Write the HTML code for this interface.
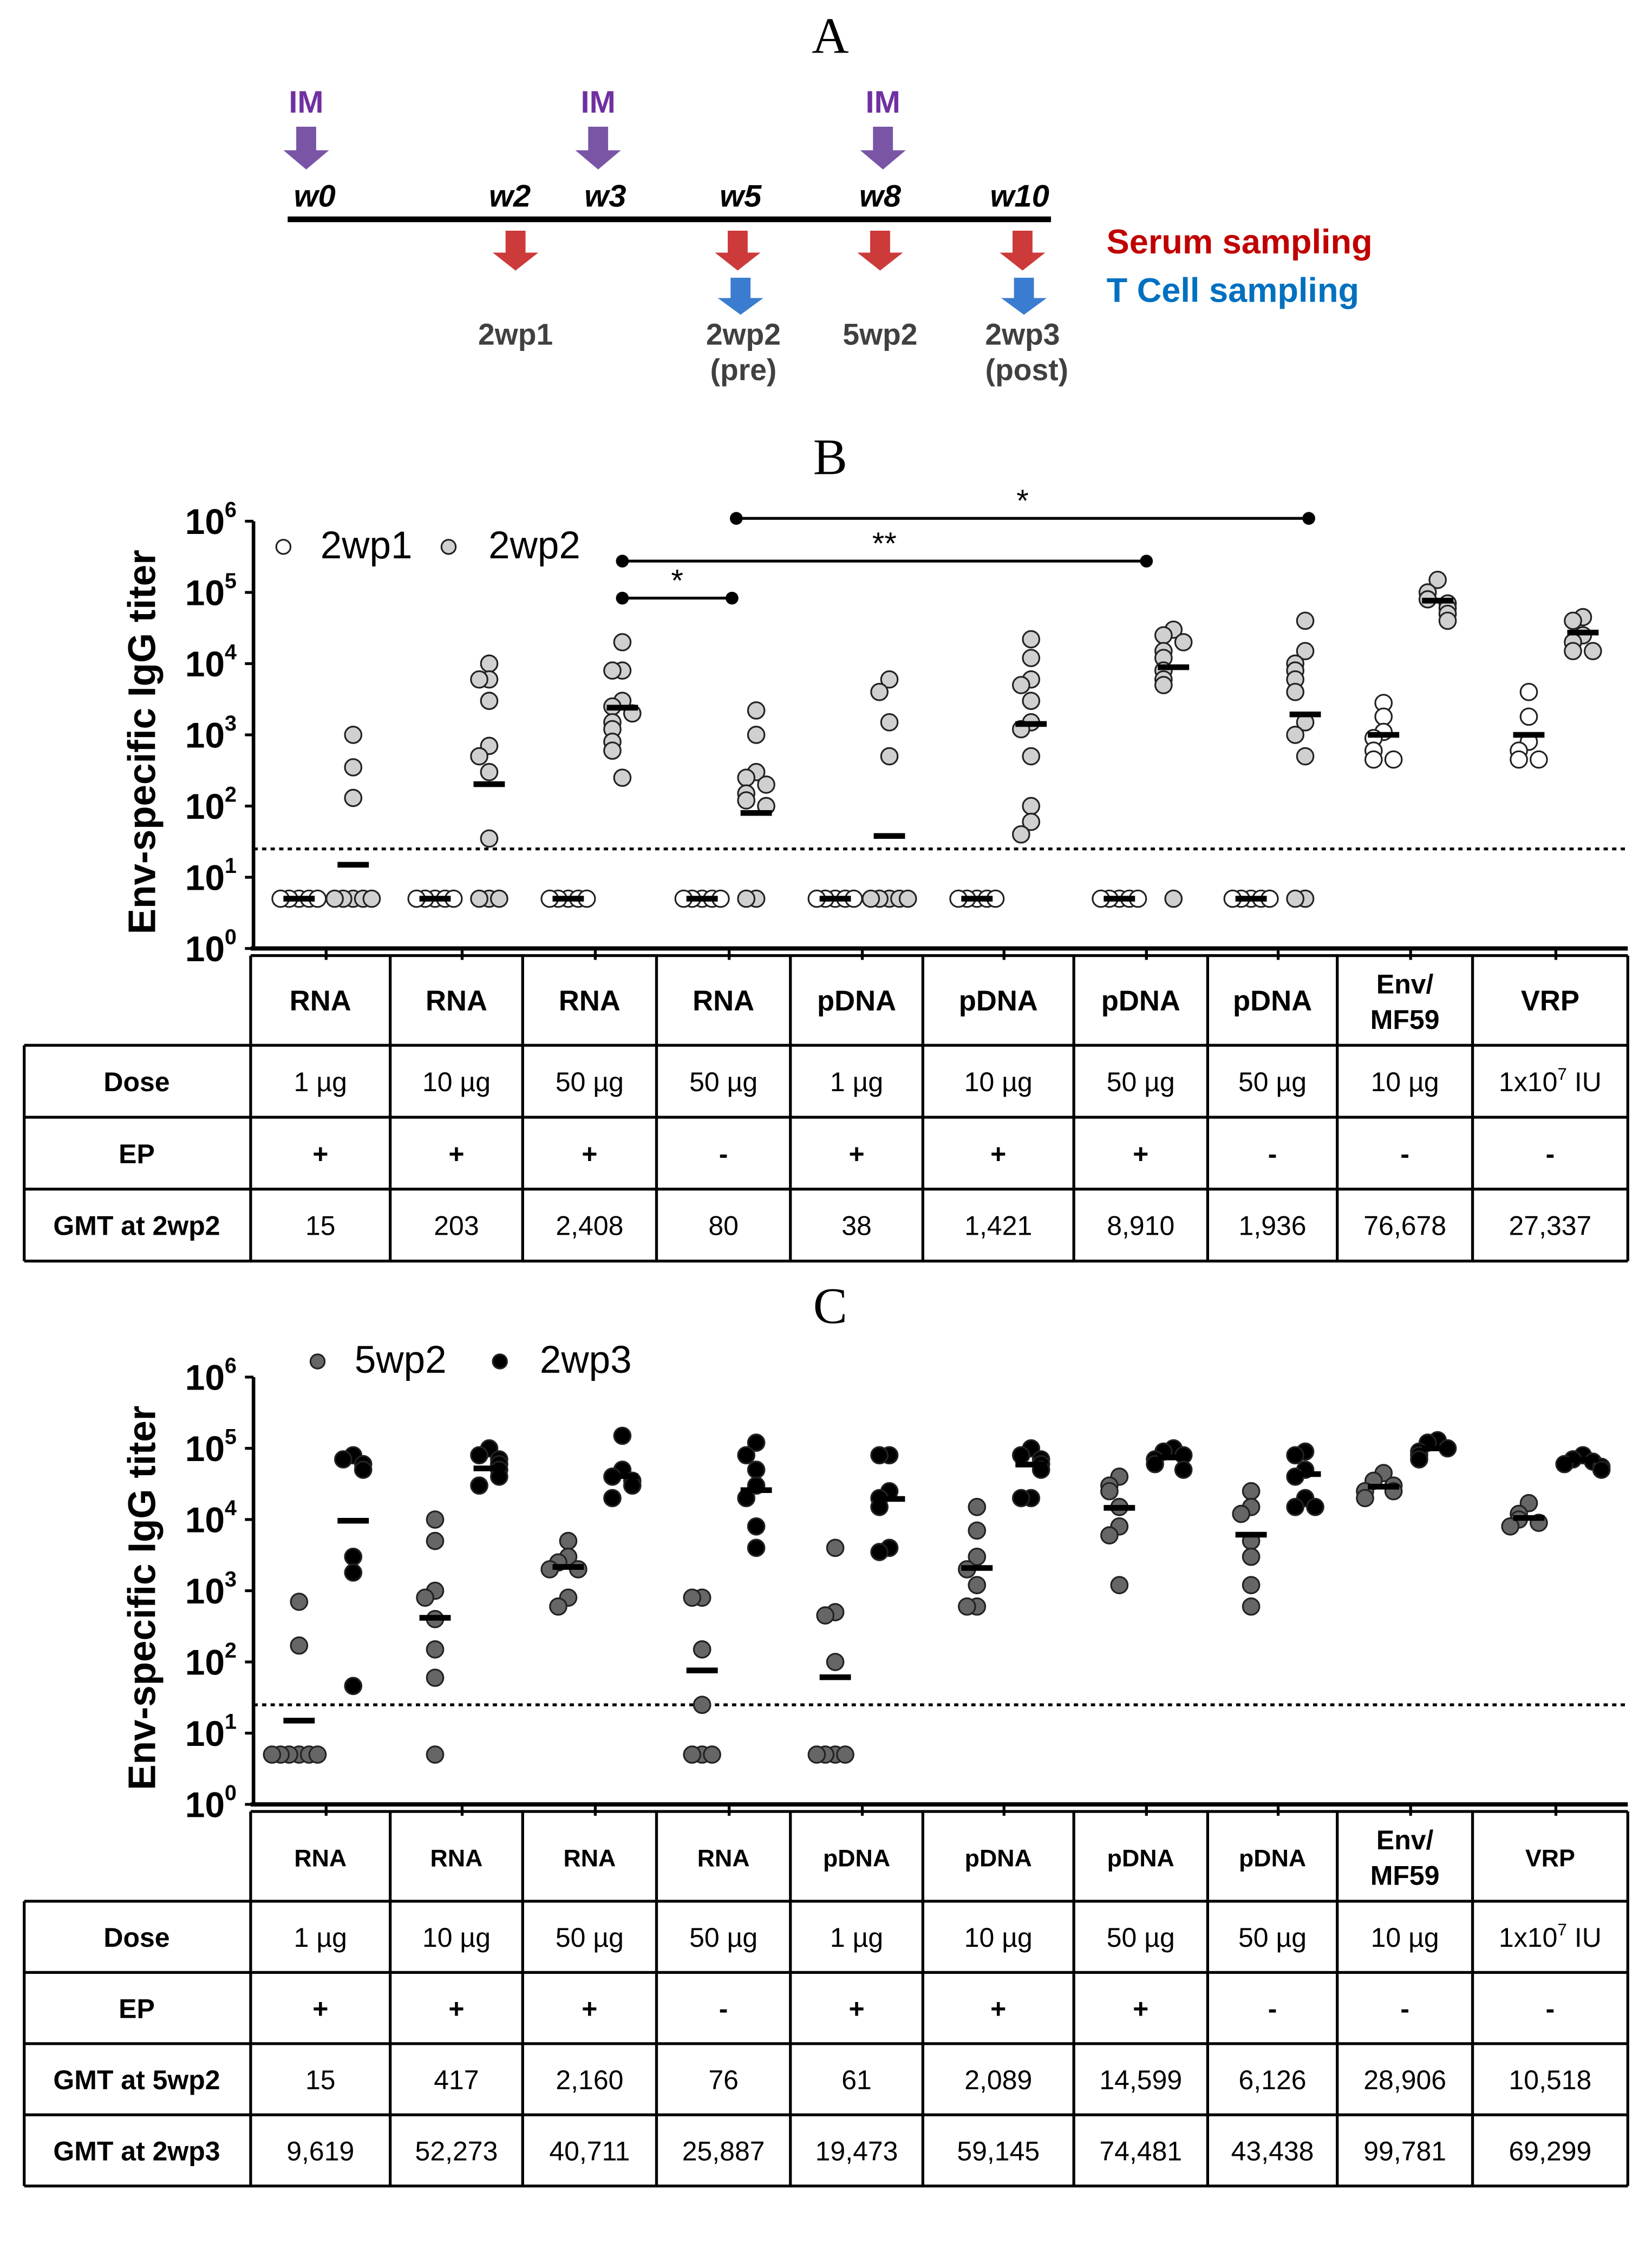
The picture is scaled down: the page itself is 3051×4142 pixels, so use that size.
<!DOCTYPE html>
<html><head><meta charset="utf-8">
<style>
html,body{margin:0;padding:0;background:#fff;}
svg{display:block;}
text{font-family:"Liberation Sans",sans-serif;}
.serif{font-family:"Liberation Serif",serif;}
</style></head>
<body>
<svg id="fig" xmlns="http://www.w3.org/2000/svg" width="3051" height="4142" viewBox="0 0 1160 1575" preserveAspectRatio="none">
<rect x="0" y="0" width="1160" height="1575" fill="#fff"/>
<g id="panelA"></g>
<g id="panelB"></g>
<g id="panelC"></g>
</svg>
<script>
// ===== data =====
const categories = ["RNA","RNA","RNA","RNA","pDNA","pDNA","pDNA","pDNA","Env/\nMF59","VRP"];
const doses = ["1 µg","10 µg","50 µg","50 µg","1 µg","10 µg","50 µg","50 µg","10 µg","1x10^7 IU"];
const epValues = ["+","+","+","-","+","+","+","-","-","-"];
const tickExponents = [0,1,2,3,4,5,6];

const b2wp1 = [[5,5,5,5,5],[5,5,5,5,5],[5,5,5,5,5],[5,5,5,5,5],[5,5,5,5,5],[5,5,5,5,5],[5,5,5,5,5],[5,5,5,5,5],
  [2800,1800,1100,900,600,450,450],[4000,1800,800,600,450,450]];
const b2wp2 = [[1000,350,130,5,5,5,5,5],[10000,6000,6000,3000,700,500,300,35,5,5,5],
  [20000,8000,8000,3000,2500,2000,1500,1200,800,600,250],[2200,1000,300,250,200,150,120,100,5,5],
  [6000,4000,1500,500,5,5,5,5,5],[22000,12000,6000,5000,3000,1500,1200,500,100,60,40],
  [30000,25000,20000,15000,12000,8000,6000,5000,5],[40000,15000,10000,8000,6000,4000,1500,1000,500,5,5],
  [150000,100000,80000,70000,60000,50000,40000],[45000,40000,25000,20000,15000,15000]];
const gmtB1 = [5,5,5,5,5,5,5,5,1000,1000];
const gmtB2 = [15,203,2408,80,38,1421,8910,1936,76678,27337];
const gmtB2Labels = ["15","203","2,408","80","38","1,421","8,910","1,936","76,678","27,337"];

const c5wp2 = [[700,170,5,5,5,5,5,5],[10000,5000,1000,800,400,150,60,5],[5000,3000,2500,2000,2000,800,600],
  [800,800,150,25,5,5,5],[4000,500,450,100,5,5,5,5],[15000,7000,3000,2000,1200,600,600],
  [40000,30000,25000,15000,8000,6000,1200],[25000,15000,12000,5000,3000,1200,600],
  [45000,35000,30000,25000,25000,20000],[17000,12000,10000,9000,8000]];
const c2wp3 = [[80000,70000,60000,50000,3000,1800,46],[100000,80000,70000,60000,50000,40000,30000],
  [150000,50000,40000,35000,30000,20000],[120000,80000,50000,30000,20000,8000,4000],
  [80000,80000,25000,20000,15000,4000,3500],[100000,80000,70000,60000,50000,20000,20000],
  [100000,90000,80000,70000,60000,50000],[90000,80000,50000,40000,20000,15000,15000],
  [130000,120000,100000,90000,80000,70000],[80000,70000,65000,60000,55000,50000]];
const gmtC1 = [15,417,2160,76,61,2089,14599,6126,28906,10518];
const gmtC2 = [9619,52273,40711,25887,19473,59145,74481,43438,99781,69299];
const gmtC1Labels = ["15","417","2,160","76","61","2,089","14,599","6,126","28,906","10,518"];
const gmtC2Labels = ["9,619","52,273","40,711","25,887","19,473","59,145","74,481","43,438","99,781","69,299"];
const lodValue = 25;

// ===== helpers =====
const NS="http://www.w3.org/2000/svg";
function mk(parent,tag,attrs,txt){const e=document.createElementNS(NS,tag);for(const k in attrs)e.setAttribute(k,attrs[k]);if(txt!==undefined)e.textContent=txt;parent.appendChild(e);return e;}
const colBounds=[176,274,367,461,555,648,754,848,939,1034,1143];
function colCenter(i){return (colBounds[i]+colBounds[i+1])/2;}
function xA(i){return colCenter(i)-15;}
function xB(i){return colCenter(i)+23;}

function arrow(g,cx,y0,y1,fill,name){
  const sw=7,hw=16,hy=y1-(y1-y0)*0.45;
  const p=mk(g,'polygon',{points:`${cx-sw},${y0} ${cx+sw},${y0} ${cx+sw},${hy} ${cx+hw},${hy} ${cx},${y1} ${cx-hw},${hy} ${cx-sw},${hy}`,fill:fill});
  
  
}

// ===== Panel A =====
(function(){
  const g=document.getElementById('panelA');
  let t=mk(g,'text',{x:583,y:37,'font-size':36,'text-anchor':'middle',class:'serif'},'A');
  
  [215,420,620].forEach((x,i)=>{
    let l=mk(g,'text',{x:x,y:79,'font-size':22,'font-weight':'bold',fill:'#7030a0','text-anchor':'middle'},'IM');
    
    arrow(g,x,89,119,'#7a55a6','im-arrow');
  });
  const wl=[["w0",221],["w2",358],["w3",425],["w5",520],["w8",618],["w10",716]];
  wl.forEach(w=>{let e=mk(g,'text',{x:w[1],y:145,'font-size':22,'font-weight':'bold','font-style':'italic','text-anchor':'middle'},w[0]);
    });
  let ln=mk(g,'rect',{x:202,y:152,width:536,height:4,fill:'#000'});
  
  [362,518,618,718].forEach(x=>arrow(g,x,162,190,'#cc3a3a','serum-arrow'));
  [520,719].forEach(x=>arrow(g,x,195,221,'#3a7dd0','tcell-arrow'));
  [["2wp1",362,242],["2wp2",522,242],["5wp2",618,242],["2wp3",718,242],["(pre)",522,267],["(post)",721,267]].forEach(s=>{
    let e=mk(g,'text',{x:s[1],y:s[2],'font-size':21,'font-weight':'bold',fill:'#404040','text-anchor':'middle'},s[0]);
    });
  let s1=mk(g,'text',{x:777,y:178,'font-size':24,'font-weight':'bold',fill:'#c00000'},'Serum sampling');
  
  let s2=mk(g,'text',{x:777,y:212,'font-size':24,'font-weight':'bold',fill:'#0070c0'},'T Cell sampling');
  
})();

// ===== chart builder =====
function buildPanel(g,o){
  const yTop=o.yTop,yBot=o.yTop+300;
  const yScale=v=>yBot-Math.log10(v)*50;
  let lab=mk(g,'text',{x:583,y:o.labelY,'font-size':36,'text-anchor':'middle',class:'serif'},o.label);
  
  // y axis title
  let yt=mk(g,'text',{x:0,y:0,'font-size':27,'font-weight':'bold','text-anchor':'middle',transform:`translate(109,${(yTop+yBot)/2+5}) rotate(-90)`},'Env-specific IgG titer');
  
  // axes
  let ya=mk(g,'line',{x1:178,y1:yTop,x2:178,y2:yBot,stroke:'#000','stroke-width':2.5});
  
  let xa=mk(g,'line',{x1:176,y1:yBot,x2:1143,y2:yBot,stroke:'#000','stroke-width':3});
  
  tickExponents.forEach(e=>{
    const y=yScale(Math.pow(10,e));
    let tk=mk(g,'line',{x1:172,y1:y,x2:178,y2:y,stroke:'#000','stroke-width':2});
    
    let t=mk(g,'text',{x:130,y:y+9,'font-size':25,'font-weight':'bold'});
    
    mk(t,'tspan',{},'10');mk(t,'tspan',{dy:-12,'font-size':15},String(e));
  });
  for(let i=0;i<10;i++){
    const x=colCenter(i)+4;
    let tk=mk(g,'line',{x1:x,y1:yBot,x2:x,y2:yBot+8,stroke:'#000','stroke-width':2});
    
  }
  let lod=mk(g,'line',{x1:178,y1:yScale(lodValue),x2:1143,y2:yScale(lodValue),stroke:'#000','stroke-width':2,'stroke-dasharray':'3,3'});
  
  // dots
  function series(data,gmt,xf,fill,name){
    data.forEach((arr,i)=>{
      const placed=[];
      const cx0=xf(i);
      arr.slice().sort((a,b)=>b-a).forEach(v=>{
        const y=yScale(v);
        let k=placed.filter(p=>Math.abs(p-y)<9).length;
        placed.push(y);
        const off=[0,-7,7,-13,13,-19,19][Math.min(k,6)];
        let c=mk(g,'circle',{cx:cx0+off,cy:y,r:5.8,fill:fill,stroke:'#222','stroke-width':1.2});
        
      });
      let b=mk(g,'line',{x1:cx0-11,y1:yScale(gmt[i]),x2:cx0+11,y2:yScale(gmt[i]),stroke:'#000','stroke-width':4});
      
    });
  }
  series(o.s1,o.g1,xA,o.fill1,o.name1);
  series(o.s2,o.g2,xB,o.fill2,o.name2);
  // legend
  let l1=mk(g,'circle',{cx:o.legX1,cy:o.legY-8,r:5,fill:o.fill1,stroke:'#222','stroke-width':1.2});
  
  let lt1=mk(g,'text',{x:o.legX1+26,y:o.legY,'font-size':27},o.name1);
  
  let l2=mk(g,'circle',{cx:o.legX2,cy:o.legY-8,r:5,fill:o.fill2,stroke:'#222','stroke-width':1.2});
  
  let lt2=mk(g,'text',{x:o.legX2+28,y:o.legY,'font-size':27},o.name2);
  
  // table
  const t0=yBot+5,hdrH=63,rowH=o.rowH;
  const rows=[["Dose",null],["EP",epValues]].concat(o.gmtRows);
  const tableBot=t0+hdrH+rows.length*rowH;
  const line=(x1,y1,x2,y2,n)=>{let l=mk(g,'line',{x1,y1,x2,y2,stroke:'#000','stroke-width':2});};
  line(176,t0,1143,t0,'table-border');
  colBounds.forEach(x=>line(x,t0,x,tableBot,'table-column-line'));
  line(17,t0+hdrH,17,tableBot,'table-border');
  for(let r=0;r<=rows.length;r++) line(17,t0+hdrH+r*rowH,1143,t0+hdrH+r*rowH,'table-row-line');
  categories.forEach((c,i)=>{
    const parts=c.split('\n');const x=colCenter(i);
    const fs=(c.indexOf('\n')>=0)?19:o.hdrFont;
    parts.forEach((p,k)=>{
      const y=t0+hdrH/2+7+(parts.length>1?(k===0?-12:13):0);
      let t=mk(g,'text',{x:x,y:y,'font-size':fs,'font-weight':'bold','text-anchor':'middle'},p);
      
    });
  });
  rows.forEach((r,ri)=>{
    const yc=t0+hdrH+ri*rowH+rowH/2+7;
    let rl=mk(g,'text',{x:96,y:yc,'font-size':19,'font-weight':'bold','text-anchor':'middle'},r[0]);
    
    for(let i=0;i<10;i++){
      let val=ri===0?doses[i]:r[1][i];
      let t=mk(g,'text',{x:colCenter(i),y:yc,'font-size':19,'font-weight':ri===1?'bold':'normal','text-anchor':'middle'});
      
      if(val.indexOf('^')>=0){const [a,b]=val.split('^');const e=b.split(' ');mk(t,'tspan',{},a);mk(t,'tspan',{dy:-8,'font-size':12},e[0]);mk(t,'tspan',{dy:8},' '+e.slice(1).join(' '));}
      else t.textContent=val;
    }
  });
  return yScale;
}

const yB=buildPanel(document.getElementById('panelB'),{label:'B',labelY:333,yTop:366,s1:b2wp1,s2:b2wp2,g1:gmtB1,g2:gmtB2,
  fill1:'#ffffff',fill2:'#d0d0d0',name1:'2wp1',name2:'2wp2',legX1:199,legX2:315,legY:392,rowH:50.5,hdrFont:20,
  gmtRows:[["GMT at 2wp2",gmtB2Labels]]});
// significance bars
(function(){
  const g=document.getElementById('panelB');
  [[437,514,420,'*'],[437,805,394,'**'],[517,919,364,'*']].forEach(s=>{
    let l=mk(g,'line',{x1:s[0],y1:s[2],x2:s[1],y2:s[2],stroke:'#000','stroke-width':2});
    
    [s[0],s[1]].forEach(x=>{let c=mk(g,'circle',{cx:x,cy:s[2],r:4.5,fill:'#000'});});
    let t=mk(g,'text',{x:(s[0]+s[1])/2,y:s[2]-5,'font-size':22,'text-anchor':'middle'},s[3]);
    
  });
})();
buildPanel(document.getElementById('panelC'),{label:'C',labelY:929,yTop:967,s1:c5wp2,s2:c2wp3,g1:gmtC1,g2:gmtC2,
  fill1:'#666666',fill2:'#000000',name1:'5wp2',name2:'2wp3',legX1:223,legX2:351,legY:964,rowH:50,hdrFont:17,
  gmtRows:[["GMT at 5wp2",gmtC1Labels],["GMT at 2wp3",gmtC2Labels]]});
</script>
</body></html>
